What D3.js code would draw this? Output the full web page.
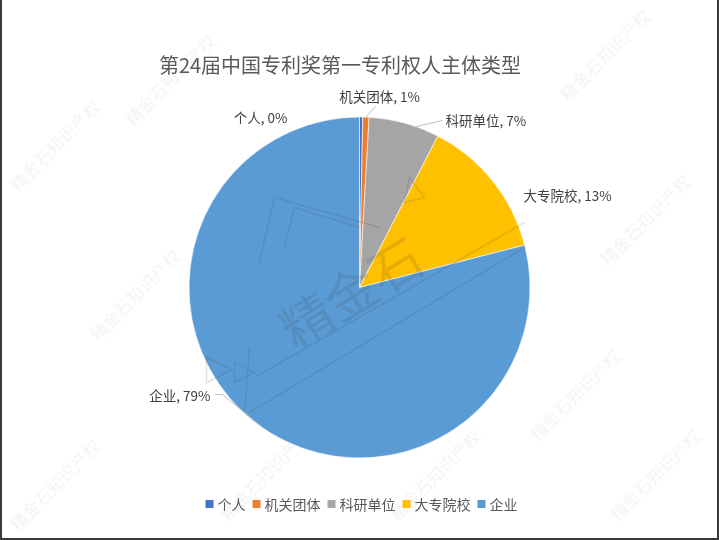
<!DOCTYPE html>
<html>
<head>
<meta charset="utf-8">
<script src="https://cdn.jsdelivr.net/npm/d3@7"></script>
<style>
  html, body { margin: 0; padding: 0; background: #fff; }
  svg { display: block; font-family: "Noto Sans CJK SC", "Microsoft YaHei", sans-serif; }
</style>
</head>
<body>
<svg id="chart" width="719" height="540"></svg>
<script>
// ---- data ----
const title = "第24届中国专利奖第一专利权人主体类型";
const categories = ["个人", "机关团体", "科研单位", "大专院校", "企业"];
const values = [0.3, 0.6, 6.7, 13.4, 79.0];
const colors = ["#4472C4", "#ED7D31", "#A5A5A5", "#FFC000", "#5B9BD5"];

// ---- layout (label boxes placed like the original, relative to pie centre) ----
const W = 719, H = 540;
const cx = 359.5, cy = 287.5, R = 170.5;
const labelLayout = [
  { x: -72, y: -171, anchor: "end" },
  { x: 20,  y: -192, anchor: "middle" },
  { x: 86,  y: -168, anchor: "start" },
  { x: 164, y: -93,  anchor: "start" },
  { x: -149, y: 107, anchor: "end" }
];

const svg = d3.select("#chart");

svg.append("rect").attr("x", 0).attr("y", 0).attr("width", W).attr("height", H).attr("fill", "#fff");

// watermark (faint)
const wm = svg.append("g").attr("fill", "#000").attr("opacity", 0.05)
  .style("font-size", "17px");
const wmPos = [[175, 85], [610, 60], [60, 490], [580, 400], [650, 225], [140, 300], [400, 215], [270, 480], [440, 480], [60, 150], [660, 480]];
wmPos.forEach(p => {
  wm.append("text").attr("transform", `translate(${p[0]},${p[1]}) rotate(-45)`)
    .attr("text-anchor", "middle").text("精金石知识产权");
});

const data = categories.map((c, i) => ({ name: c, value: values[i], color: colors[i] }));
const total = d3.sum(values);

const pie = d3.pie().sort(null).value(d => d.value).startAngle(0).endAngle(2 * Math.PI);
const arcs = pie(data);
const arc = d3.arc().innerRadius(0).outerRadius(R);

const g = svg.append("g").attr("transform", `translate(${cx},${cy})`);
g.selectAll("path.slice").data(arcs).join("path")
  .attr("class", "slice")
  .attr("d", arc)
  .attr("fill", d => d.data.color)
  .attr("stroke", "#fff")
  .attr("stroke-width", 0.6);

// central logo watermark
const logo = g.append("g").attr("opacity", 0.13).attr("stroke", "#333").attr("fill", "none").attr("stroke-width", 1.5);
logo.append("text").attr("transform", "rotate(-32)").attr("x", -10).attr("y", 20)
  .attr("text-anchor", "middle").attr("fill", "#333").attr("stroke", "none")
  .style("font-size", "52px").text("精金石");
logo.append("path").attr("d", "M-85,-90 L-100,-25 M-85,-90 L20,-60");
logo.append("path").attr("d", "M-110,60 L-115,125 M-110,125 L165,-40");
logo.append("path").attr("d", "M-105,90 L165,-65");
logo.append("path").attr("d", "M-65,-80 L-75,-40 M-65,-80 L0,-60");
logo.append("path").attr("d", "M-153,70 L-153,95 L-127,82 Z");
logo.append("path").attr("d", "M-125,75 L-125,95 L-105,85 Z");
logo.append("path").attr("d", "M50,-110 L45,-85 L65,-90 Z");

// data labels
const fmt = v => Math.round(v / total * 100) + "%";
const labels = g.append("g").style("font-size", "13.5px").attr("fill", "#404040");
arcs.forEach((a, i) => {
  const L = labelLayout[i];
  labels.append("text")
    .attr("x", L.x).attr("y", L.y)
    .attr("text-anchor", L.anchor)
    .attr("dominant-baseline", "central")
    .text(`${a.data.name}, ${fmt(a.data.value)}`);
});

// leader lines from the arc edge to the labels
const mid = a => (a.startAngle + a.endAngle) / 2;
const onArc = (ang, r) => [r * Math.sin(ang), -r * Math.cos(ang)];
const leaders = g.append("g").attr("stroke", "#bfbfbf").attr("fill", "none").attr("stroke-width", 1);
function leader(pts) {
  leaders.append("path").attr("d", d3.line()(pts));
}
{
  const p = onArc(mid(arcs[1]), R);
  leader([p, [labelLayout[1].x - 4, labelLayout[1].y + 11]]);
}
{
  const p = onArc(mid(arcs[2]) + 0.07, R);
  leader([p, [labelLayout[2].x - 3, labelLayout[2].y + 1]]);
}
{
  const p = onArc(mid(arcs[4]) - 0.07, R);
  leader([[labelLayout[4].x + 5, labelLayout[4].y], [labelLayout[4].x + 12, labelLayout[4].y], p]);
}

// title
svg.append("text")
  .attr("x", 340).attr("y", 64)
  .attr("text-anchor", "middle").attr("dominant-baseline", "central")
  .attr("fill", "#595959")
  .style("font-size", "20px")
  .text(title);

// legend
const legend = svg.append("g").style("font-size", "14px").attr("fill", "#595959");
const items = [];
let xPos = 0;
const gap = 7;
data.forEach(d => {
  const grp = legend.append("g");
  grp.append("rect").attr("x", 0).attr("y", -4).attr("width", 8).attr("height", 8).attr("fill", d.color);
  const t = grp.append("text").attr("x", 12).attr("y", 0).attr("dominant-baseline", "central").text(d.name);
  const w = 12 + t.node().getComputedTextLength();
  items.push({ grp, x: xPos });
  xPos += w + gap;
});
const totalW = xPos - gap;
const startX = 361.5 - totalW / 2;
items.forEach(it => it.grp.attr("transform", `translate(${startX + it.x},504)`));

// outer border (left, right, bottom)
svg.append("path")
  .attr("d", `M1,0 L1,${H - 1} L${W - 1},${H - 1} L${W - 1},0`)
  .attr("fill", "none").attr("stroke", "#3a3a3a").attr("stroke-width", 2);
</script>
</body>
</html>
